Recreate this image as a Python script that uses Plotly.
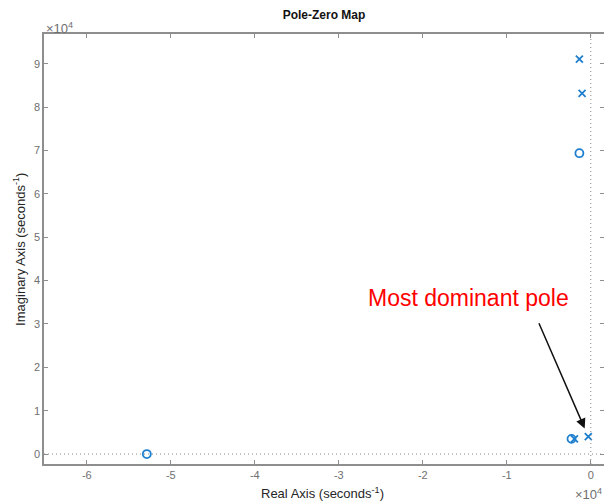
import plotly.graph_objects as go

# Pole and zero locations (real, imaginary) in seconds^-1
pole_re = [-1360, -1040, -300, -1950]
pole_im = [91100, 83200, 4000, 3500]
zero_re = [-1360, -2300, -52860]
zero_im = [69400, 3500, 0]

# Axis ticks, labelled in units of 1e4
x_ticks = [-60000, -50000, -40000, -30000, -20000, -10000, 0]
x_labels = ["-6", "-5", "-4", "-3", "-2", "-1", "0"]
y_ticks = [0, 10000, 20000, 30000, 40000, 50000, 60000, 70000, 80000, 90000]
y_labels = ["0", "1", "2", "3", "4", "5", "6", "7", "8", "9"]
x_range = [-65100, 1570]
y_range = [-2300, 96900]

blue = "#1f7fcf"
axis_grey = "#8e8e8e"
tick_grey = "#6f6f6f"
font_family = "Liberation Sans, Arial, Helvetica, sans-serif"

fig = go.Figure()

fig.add_trace(go.Scatter(
    x=zero_re, y=zero_im, mode="markers",
    marker=dict(symbol="circle-open", size=8, color=blue,
                line=dict(width=1.8, color=blue)),
    showlegend=False, hoverinfo="x+y"))
fig.add_trace(go.Scatter(
    x=pole_re, y=pole_im, mode="markers",
    marker=dict(symbol="x-thin", size=7, color=blue,
                line=dict(width=1.8, color=blue)),
    showlegend=False, hoverinfo="x+y"))

# Dotted reference lines through the origin
fig.add_shape(type="line", xref="x", yref="paper", x0=0, x1=0, y0=0, y1=1,
              line=dict(color="#8a8a8a", width=1, dash="1px,3px"))
fig.add_shape(type="line", xref="paper", yref="y", x0=0, x1=1, y0=0, y1=0,
              line=dict(color="#8a8a8a", width=1, dash="1px,3px"))

axis_common = dict(
    showgrid=False, zeroline=False, ticks="inside", ticklen=4,
    tickwidth=1, tickcolor=axis_grey, showline=True, linecolor=axis_grey,
    linewidth=1.5, tickfont=dict(size=11, color=tick_grey, family=font_family),
)

fig.update_layout(
    width=604, height=504,
    margin=dict(l=44, r=0, t=34, b=40),
    paper_bgcolor="white", plot_bgcolor="white",
    font=dict(family=font_family),
    xaxis=dict(range=x_range, tickvals=x_ticks, ticktext=x_labels,
               mirror="ticks", **axis_common),
    yaxis=dict(range=y_range, tickvals=y_ticks, ticktext=y_labels,
               mirror=False, **axis_common),
    yaxis2=dict(range=y_range, tickvals=y_ticks, overlaying="y", side="right",
                showticklabels=False, showgrid=False, zeroline=False,
                ticks="inside", ticklen=4, tickcolor=axis_grey, showline=False),
    title=dict(text="<b>Pole-Zero Map</b>", x=0.5, xref="paper",
               y=1 - 15 / 504, yref="container", yanchor="middle",
               xanchor="center", font=dict(size=12, color="#111111")),
)

# Invisible trace to activate the right-hand tick axis
fig.add_trace(go.Scatter(x=[None], y=[None], yaxis="y2", showlegend=False))

annotations = [
    dict(text="Real Axis (seconds<sup>-1</sup>)", xref="paper", yref="paper",
         x=0.497, y=-0.067, showarrow=False, xanchor="center", yanchor="middle",
         font=dict(size=13, color="#262626")),
    dict(text="Imaginary Axis (seconds<sup>-1</sup>)", xref="paper", yref="paper",
         x=-0.0446, y=0.498, textangle=-90, showarrow=False,
         xanchor="center", yanchor="middle",
         font=dict(size=13, color="#262626")),
    dict(text="×10<sup>4</sup>", xref="paper", yref="paper", x=0.0, y=1.0,
         xanchor="left", yanchor="bottom", showarrow=False, yshift=-4,
         font=dict(size=13, color=tick_grey)),
    dict(text="×10<sup>4</sup>", xref="paper", yref="paper", x=0.945, y=-0.07,
         xanchor="left", yanchor="middle", showarrow=False,
         font=dict(size=13, color=tick_grey)),
    dict(text="Most dominant pole", xref="paper", yref="paper",
         x=(468 - 44) / 560, y=(464 - 298) / 430, showarrow=False,
         xanchor="center", yanchor="middle",
         font=dict(size=23, color="#ff0000")),
    dict(text="", x=pole_re[2], y=pole_im[2], xref="x", yref="y",
         ax=-50, ay=-115, showarrow=True, arrowhead=2, arrowsize=1.3,
         arrowwidth=1.5, arrowcolor="#111111", standoff=9),
]
fig.update_layout(annotations=annotations)

fig.write_html("out.html")
